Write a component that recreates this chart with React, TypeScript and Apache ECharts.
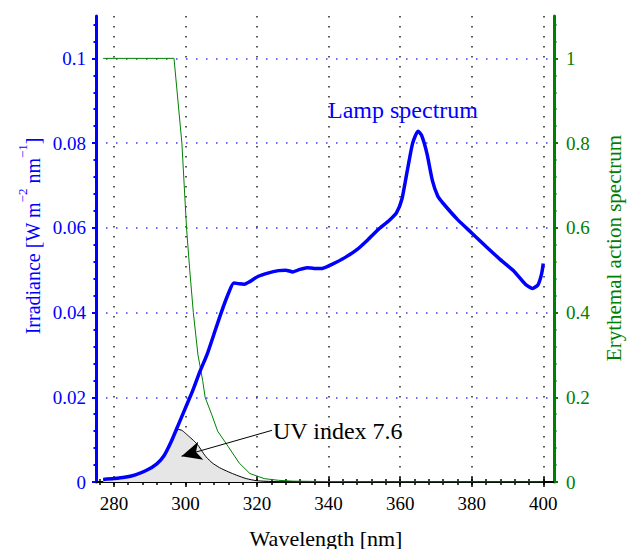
import React, { useEffect, useRef } from "react";
import * as echarts from "echarts";

// Wavelength [nm] and irradiance [W m-2 nm-1] of the lamp spectrum
const lampWl = [277, 280, 283, 286, 289, 292, 294, 296, 298, 300, 302, 304, 306, 308, 310, 312, 313.5, 315, 316.5, 318, 320, 323, 326, 328, 330, 332, 334, 336, 338, 340, 342, 345, 348, 351, 354, 357, 359, 360.5, 362, 363.5, 365, 366, 367.5, 369, 370.5, 372, 376, 380, 384, 388, 392, 395, 397, 398.5, 399.5, 400];
const lampIrr = [0.0006, 0.0008, 0.0011, 0.0017, 0.0027, 0.0043, 0.0062, 0.0095, 0.0135, 0.0175, 0.0215, 0.026, 0.030, 0.035, 0.040, 0.0445, 0.047, 0.0468, 0.0467, 0.0473, 0.0484, 0.0493, 0.0499, 0.0500, 0.0496, 0.0502, 0.0506, 0.0504, 0.0504, 0.0510, 0.0518, 0.0532, 0.0549, 0.0572, 0.0597, 0.0618, 0.0636, 0.0668, 0.0735, 0.0800, 0.0828, 0.0818, 0.0775, 0.0712, 0.0675, 0.0658, 0.0620, 0.0588, 0.0556, 0.0525, 0.0496, 0.0467, 0.0457, 0.0465, 0.0490, 0.0516];

// Erythemal action spectrum (right axis)
const eryWl = [277, 296.8, 299, 300.3, 301.2, 302.2, 303.5, 304.8, 305.5, 307.3, 309, 312, 315, 318, 322, 326, 330, 340, 360, 400];
const eryAct = [1, 1, 0.8, 0.6, 0.5, 0.4, 0.3, 0.24, 0.2, 0.16, 0.12, 0.083, 0.045, 0.02, 0.008, 0.004, 0.002, 0.001, 0.0005, 0.0002];

// Erythemally weighted irradiance (shaded)
const uvWl = [277, 280, 283, 286, 289, 292, 294, 296, 297, 298, 299, 300, 301.2, 302.5, 303.5, 305, 305.8, 307.5, 309.5, 312, 314.3, 317, 320, 325, 330];
const uvIrr = [0.0006, 0.0008, 0.0011, 0.0017, 0.0027, 0.0043, 0.0062, 0.0095, 0.0112, 0.0124, 0.0122, 0.0115, 0.0106, 0.0096, 0.0087, 0.0068, 0.0059, 0.0045, 0.0034, 0.0024, 0.0016, 0.0008, 0.0003, 0.0001, 0];

// Ticks
const xMajor = [280, 300, 320, 340, 360, 380, 400];
const xMinor = [276, 280, 284, 288, 292, 296, 300, 304, 308, 312, 316, 320, 324, 328, 332, 336, 340, 344, 348, 352, 356, 360, 364, 368, 372, 376, 380, 384, 388, 392, 396, 400];
const yLeftMajor = [0, 0.02, 0.04, 0.06, 0.08, 0.1];
const yLeftMinor = [0, 0.004, 0.008, 0.012, 0.016, 0.02, 0.024, 0.028, 0.032, 0.036, 0.04, 0.044, 0.048, 0.052, 0.056, 0.06, 0.064, 0.068, 0.072, 0.076, 0.08, 0.084, 0.088, 0.092, 0.096, 0.1, 0.104, 0.108];
const yRightMajor = [0, 0.2, 0.4, 0.6, 0.8, 1];
const yRightMinor = [0, 0.04, 0.08, 0.12, 0.16, 0.2, 0.24, 0.28, 0.32, 0.36, 0.4, 0.44, 0.48, 0.52, 0.56, 0.6, 0.64, 0.68, 0.72, 0.76, 0.8, 0.84, 0.88, 0.92, 0.96, 1, 1.04, 1.08];

const arrowFrom = [324.2, 0.0122];
const arrowTo = [298.9, 0.0061];

const FONT = "'Liberation Serif', 'Times New Roman', serif";
const BLUE = "#0000ff";
const GREEN = "#008000";

export default function App() {
  const ref = useRef<HTMLDivElement>(null);
  useEffect(() => {
    if (!ref.current) return;
    const chart = echarts.init(ref.current, undefined, { renderer: "svg" });
    const fmt = (v: number) => String(+Number(v).toFixed(3));
    const hidden = { show: false };
    const xBase = (pos: "top" | "bottom") => ({
      type: "value",
      position: pos,
      min: 275,
      max: 403,
      gridIndex: 0,
    });
    const yBase = (pos: "left" | "right", max: number) => ({
      type: "value",
      position: pos,
      min: 0,
      max,
    });
    chart.setOption({
      animation: false,
      textStyle: { fontFamily: FONT },
      grid: { left: 96, top: 16, width: 458, height: 466, containLabel: false },
      xAxis: [
        {
          ...xBase("bottom"),
          axisLine: { show: true, lineStyle: { color: "#000", width: 2 } },
          axisTick: { show: true, inside: true, length: 5, customValues: xMajor, lineStyle: { color: "#000", width: 1.5 } },
          axisLabel: { show: true, customValues: xMajor, color: "#000", fontFamily: FONT, fontSize: 19, margin: 12, formatter: fmt },
          splitLine: { show: true, lineStyle: { color: "#222", width: 1.5, type: [1.5, 8.5] } },
        },
        {
          ...xBase("bottom"),
          axisLine: hidden,
          axisTick: { show: true, inside: true, length: 3, customValues: xMinor, lineStyle: { color: "#000", width: 1.5 } },
          axisLabel: hidden,
          splitLine: hidden,
        },
        {
          ...xBase("top"),
          axisLine: { show: true, lineStyle: { color: "#000", width: 2 } },
          axisTick: { show: true, inside: true, length: 5, customValues: xMajor, lineStyle: { color: "#000", width: 1.5 } },
          axisLabel: hidden,
          splitLine: hidden,
        },
        {
          ...xBase("top"),
          axisLine: hidden,
          axisTick: { show: true, inside: true, length: 3, customValues: xMinor, lineStyle: { color: "#000", width: 1.5 } },
          axisLabel: hidden,
          splitLine: hidden,
        },
      ],
      yAxis: [
        {
          ...yBase("left", 0.11),
          axisLine: { show: true, lineStyle: { color: BLUE, width: 3 } },
          axisTick: { show: true, inside: false, length: 4, customValues: yLeftMajor, lineStyle: { color: BLUE, width: 2 } },
          axisLabel: { show: true, customValues: yLeftMajor, color: BLUE, fontFamily: FONT, fontSize: 19, margin: 10, formatter: fmt },
          splitLine: { show: true, lineStyle: { color: "#3a3aff", width: 1.5, type: [1.5, 8.5] } },
        },
        {
          ...yBase("right", 1.1),
          axisLine: { show: true, lineStyle: { color: GREEN, width: 3 } },
          axisTick: { show: true, inside: false, length: 4, customValues: yRightMajor, lineStyle: { color: GREEN, width: 2 } },
          axisLabel: { show: true, customValues: yRightMajor, color: GREEN, fontFamily: FONT, fontSize: 19, margin: 12, formatter: fmt },
          splitLine: hidden,
        },
        {
          ...yBase("left", 0.11),
          axisLine: hidden,
          axisTick: { show: true, inside: false, length: 2.5, customValues: yLeftMinor, lineStyle: { color: BLUE, width: 2 } },
          axisLabel: hidden,
          splitLine: hidden,
        },
        {
          ...yBase("right", 1.1),
          axisLine: hidden,
          axisTick: { show: true, inside: false, length: 2.5, customValues: yRightMinor, lineStyle: { color: GREEN, width: 2 } },
          axisLabel: hidden,
          splitLine: hidden,
        },
      ],
      series: [
        {
          type: "line",
          name: "UV",
          xAxisIndex: 0,
          yAxisIndex: 0,
          data: uvWl.map((w, i) => [w, uvIrr[i]]),
          smooth: 0.2,
          symbol: "none",
          lineStyle: { color: "#000", width: 1 },
          areaStyle: { color: "#e6e6e6", opacity: 1 },
          silent: true,
          z: 1,
          markLine: {
            silent: true,
            animation: false,
            symbol: ["none", "arrow"],
            symbolSize: [14, 20],
            label: { show: false },
            lineStyle: { color: "#000", width: 1, type: "solid" },
            emphasis: { disabled: true },
            data: [[{ coord: arrowFrom }, { coord: arrowTo }]],
          },
        },
        {
          type: "line",
          name: "Erythemal",
          xAxisIndex: 0,
          yAxisIndex: 1,
          data: eryWl.map((w, i) => [w, eryAct[i]]),
          symbol: "none",
          lineStyle: { color: GREEN, width: 1 },
          silent: true,
          z: 2,
        },
        {
          type: "line",
          name: "Lamp",
          xAxisIndex: 0,
          yAxisIndex: 0,
          data: lampWl.map((w, i) => [w, lampIrr[i]]),
          smooth: 0.2,
          symbol: "none",
          lineStyle: { color: BLUE, width: 3.5 },
          silent: true,
          z: 3,
        },
      ],
      graphic: [
        {
          type: "text",
          x: 328,
          y: 110,
          style: { text: "Lamp spectrum", fill: BLUE, fontFamily: FONT, fontSize: 24, verticalAlign: "middle" },
        },
        {
          type: "text",
          x: 273,
          y: 431,
          style: { text: "UV index 7.6", fill: "#000", fontFamily: FONT, fontSize: 24, verticalAlign: "middle" },
        },
        {
          type: "text",
          x: 326,
          y: 538,
          style: { text: "Wavelength [nm]", fill: "#000", fontFamily: FONT, fontSize: 22, align: "center", verticalAlign: "middle" },
        },
        {
          type: "text",
          x: 614,
          y: 248,
          rotation: Math.PI / 2,
          style: { text: "Erythemal action spectrum", fill: GREEN, fontFamily: FONT, fontSize: 21, align: "center", verticalAlign: "middle" },
        },
        {
          type: "text",
          x: 29,
          y: 236,
          rotation: Math.PI / 2,
          style: {
            text: "{n|Irradiance [W m}{s|−2}{n| nm}{s|−1}{n|]}",
            fill: BLUE,
            align: "center",
            verticalAlign: "middle",
            rich: {
              n: { fill: BLUE, fontFamily: FONT, fontSize: 20, lineHeight: 27, verticalAlign: "bottom" },
              s: { fill: BLUE, fontFamily: FONT, fontSize: 13, lineHeight: 27, verticalAlign: "top" },
            },
          },
        },
      ],
    });
    return () => chart.dispose();
  }, []);
  return <div ref={ref} style={{ position: "absolute", left: 0, top: 0, width: 627, height: 549 }} />;
}
